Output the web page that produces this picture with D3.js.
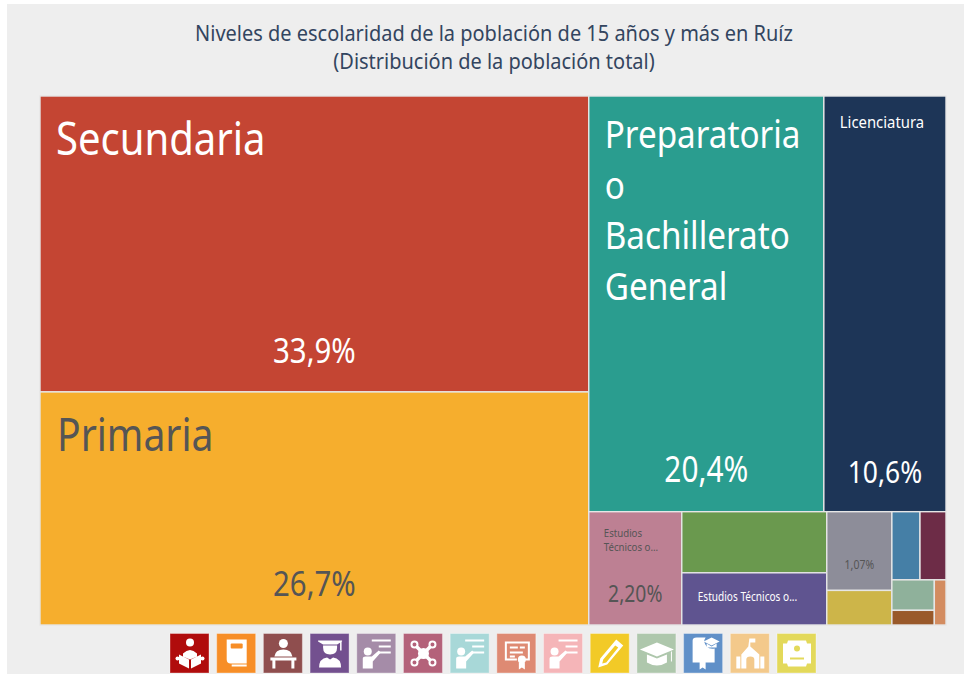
<!DOCTYPE html>
<html><head><meta charset="utf-8">
<script src="https://cdn.jsdelivr.net/npm/d3@7"></script>
<style>html,body{margin:0;padding:0;background:#fff;overflow:hidden}svg{display:block}text{font-family:"Noto Sans","Open Sans",sans-serif}</style>
</head><body><svg id="c" width="964" height="674"></svg>
<script>
const titleLines=["Niveles de escolaridad de la población de 15 años y más en Ruíz","(Distribución de la población total)"];
const categories=["Secundaria","Primaria","Preparatoria o Bachillerato General","Licenciatura","Estudios Técnicos o Comerciales con Primaria","Normal Básica","Estudios Técnicos o Comerciales con Secundaria","Maestría","Especialidad","Normal Superior","Doctorado","No especificado","Normal de Licenciatura","Estudios Técnicos Superiores"];
const values=[33.9,26.7,20.4,10.6,2.20,1.85,1.58,1.07,0.47,0.40,0.37,0.27,0.13,0.11];
const colors=["#c44533","#f6ae2d","#2a9d8f","#1d3557","#bd8093","#6a994e","#5f5490","#8d8d99","#cdb549","#457fa6","#6d2c47","#8fb19b","#99592a","#d38c60"];
const textColors=["#fff","#555","#fff","#fff","#555","#fff","#fff","#555","#555","#fff","#fff","#555","#fff","#555"];
const labelLines=[["Secundaria"],["Primaria"],["Preparatoria","o","Bachillerato","General"],["Licenciatura"],["Estudios","Técnicos o..."],[],["Estudios Técnicos o..."],[],[],[],[],[],[],[]];
const valueLabels=["33,9%","26,7%","20,4%","10,6%","2,20%","","","1,07%","","","","","",""];
const nameSizes=[46,46,38,16.5,11.5,0,12,0,0,0,0,0,0,0];
const nameStretch=[0.87,0.85,0.875,0.9,0.84,1,0.84,1,1,1,1,1,1,1];
const valueSizes=[35,35,35.5,31.5,23,0,0,12.5,0,0,0,0,0,0];
const iconColors=["#b00c0c","#f78e27","#8f4e4e","#73508f","#a58ca8","#b4627a","#a8d8d8","#de8a73","#f5b5b8","#f2ca27","#aec7ac","#6090c8","#f3c98b","#e3d95a"];
const iconKinds=["reader","book","desk","grad","teach","nodes","teach","cert","teach","pencil","cap","diploma","school","scroll"];
const groups={k:"slice",c:[{k:"dice",c:[0,1]},{k:"dice",c:[{k:"slice",c:[2,3]},{k:"slice",c:[4,{k:"dice",c:[5,6]},{k:"dice",c:[7,8]},{k:"dice",c:[{k:"slice",c:[9,10]},{k:"slice",c:[{k:"dice",c:[11,12]},13]}]}]}]}]};

const W=964,H=674,condense=0.84;
const svg=d3.select("#c");
svg.append("rect").attr("x",7).attr("y",4).attr("width",W-7).attr("height",H-4).attr("fill","#eeeeee");
svg.append("g").selectAll("text").data(titleLines).join("text")
  .attr("transform",(d,i)=>`translate(494,${41+i*28}) scale(0.9,1)`)
  .attr("text-anchor","middle").attr("font-size",22.2).attr("fill","#33455f").text(d=>d);

const toNode=n=>typeof n==="number"?{i:n,value:values[n]}:{k:n.k,children:n.c.map(toNode)};
const root=d3.hierarchy(toNode(groups)).sum(d=>d.value||0);
const tile=(n,x0,y0,x1,y1)=>(n.data.k==="slice"?d3.treemapDice:d3.treemapSlice)(n,x0,y0,x1,y1);
d3.treemap().tile(tile).size([906,529]).round(false)(root);
const plot=svg.append("g").attr("transform","translate(40,96)");
const cells=plot.selectAll("g").data(root.leaves()).join("g").attr("transform",d=>`translate(${d.x0},${d.y0})`);
cells.append("rect").attr("width",d=>d.x1-d.x0).attr("height",d=>d.y1-d.y0)
  .attr("fill",d=>colors[d.data.i]).attr("stroke","#e6e6e6").attr("stroke-width",1.4);
cells.each(function(d){
  const i=d.data.i,g=d3.select(this),w=d.x1-d.x0,h=d.y1-d.y0,fs=nameSizes[i],ls=labelLines[i];
  const pad=i===1?17:(i===4?15:16);
  const lead=i===2?50.5:14.5;
  const top=i<2?59:(i===2?52:(i===3?32:(i===4?25:(h/2+2))));
  ls.forEach((t,j)=>g.append("text").attr("transform",`translate(${pad},${top+j*lead}) scale(${nameStretch[i]},1)`)
    .attr("font-size",fs).attr("fill",textColors[i]).text(t));
  if(valueLabels[i]){
    const yb=i===7?h*0.68+4:h-(i===4?23:(i===0?29:(i===1?29:(i===2?29.5:29))));
    g.append("text").attr("transform",`translate(${w/2},${yb}) scale(${condense},1)`)
      .attr("text-anchor","middle").attr("font-size",valueSizes[i]).attr("fill",textColors[i]).text(valueLabels[i]);
  }
});

const ix=d3.scaleBand().domain(d3.range(iconKinds.length)).range([170,816]).paddingInner(0.165).paddingOuter(0).align(0);
const draw={
 reader(g){g.append("circle").attr("cx",20).attr("cy",9).attr("r",4);g.append("path").attr("d","M13 20q7-7 14 0v3l-7 3-7-3zM9 21l10 5v9l-10-5zM31 21l-10 5v9l10-5z");g.append("circle").attr("cx",7.5).attr("cy",25).attr("r",2);g.append("circle").attr("cx",32.5).attr("cy",25).attr("r",2);},
 book(g){g.append("path").attr("d","M10 6h20v27H15v-2h15v-1H14q-4 0-4-4z");g.append("rect").attr("x",14).attr("y",10).attr("width",12).attr("height",5).attr("rx",1).attr("fill",g.attr("data-c"));},
 desk(g){g.append("circle").attr("cx",20).attr("cy",10).attr("r",4.5);g.append("path").attr("d","M11 23q1-7 9-7t9 7zM7 24h26v3h-2v8h-3v-8H12v8H9v-8H7z");},
 grad(g){g.append("path").attr("d","M8 7h24v1l-5 3H13L8 8zM30 8h1.500v9h-1.500zM13 12h14v2q0 7-7 7t-7-7zM9 34q0-9 8-10l3 2 3-2q8 1 8 10z");},
 teach(g){g.append("path").attr("d","M15 6h19v2H15zM22 12h12v2H22zM22 18h12v2H22z");g.append("circle").attr("cx",11).attr("cy",18).attr("r",4);g.append("path").attr("d","M6 35V25q0-2 3-2h6l7-6 2 2-8 9v7z");},
 nodes(g){g.append("circle").attr("cx",20).attr("cy",20).attr("r",5.5);g.append("path").attr("d","M12 12L28 28M28 12L12 28").attr("stroke","#fff").attr("stroke-width",3.500);
  [[11,11],[29,11],[11,29],[29,29]].forEach(p=>g.append("circle").attr("cx",p[0]).attr("cy",p[1]).attr("r",3).attr("stroke","#fff").attr("stroke-width",2).attr("fill",g.attr("data-c")));},
 cert(g){g.append("path").attr("d","M8 8h25v19h-8v-2h6V10H10v15h10v2H8zM13 13h8v2h-8zM23 13h5v2h-5zM13 18h13v2h-13zM13 22h5v2h-5z");g.append("circle").attr("cx",25).attr("cy",26).attr("r",4);g.append("path").attr("d","M22 29h6v7l-3-2-3 2z");},
 pencil(g){g.append("path").attr("d","M26 6l7 6-16 19-9 3 2-9zM13 26l-1 4 4-1 12-15-3-2z").attr("fill-rule","evenodd");},
 cap(g){g.append("path").attr("d","M20 9l17 7-17 7-17-7zM10 21l10 4 10-4v8q-10 6-20 0zM34 18h1v10h-1z");},
 diploma(g){g.append("path").attr("d","M9 7q0-3 4-3h9q-3 4 1 9 3 3 8 2v14h-9v7l-3-2-3 2v-7H9z");g.append("path").attr("d","M28 4l8 4-8 4-8-4zM23 10l5 3 5-3v4h-10z");},
 school(g){g.append("path").attr("d","M19 5h6v4h-5v4l9 8v14h-5V26q0-3-4-3t-4 3v9h-5V21l7-8z");g.append("path").attr("d","M6 23h4v12H6zM30 23h4v12h-4z");},
 scroll(g){g.append("path").attr("d","M6 10h4l1-3h18l1 3h4v20h-4l-1 3H11l-1-3H6z");g.append("circle").attr("cx",20).attr("cy",15).attr("r",3).attr("fill",g.attr("data-c"));g.append("rect").attr("x",13).attr("y",24).attr("width",14).attr("height",2).attr("fill",g.attr("data-c"));}
};
svg.append("g").selectAll("g").data(iconKinds).join("g")
 .attr("transform",(d,i)=>`translate(${ix(i)},633.5)`).attr("data-c",(d,i)=>iconColors[i]).attr("fill","#fff")
 .each(function(d,i){const g=d3.select(this);
   g.append("rect").attr("width",ix.bandwidth()).attr("height",39.5).attr("fill",iconColors[i]).attr("stroke","#fff").attr("stroke-opacity",.35);
   draw[d](g);});
</script></body></html>
